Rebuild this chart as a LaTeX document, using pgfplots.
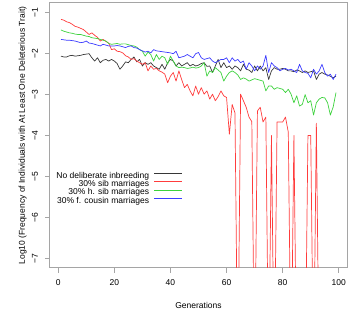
\documentclass[border=0pt]{standalone}
\usepackage{pgfplots}
\usepackage{pgfplotstable}
\pgfplotsset{compat=1.18}
\usepackage{fontspec}
\setmainfont{Liberation Sans}
\definecolor{cblack}{RGB}{55,55,55}
\definecolor{cred}{RGB}{255,60,60}
\definecolor{cgreen}{RGB}{60,210,60}
\definecolor{cblue}{RGB}{60,60,255}
\definecolor{frame}{RGB}{165,165,165}
\pgfplotstableread{
g black red green blue
1 -2.06 -1.16 -1.42 -1.65
2 -2.08 -1.18 -1.45 -1.66
3 -2.08 -1.22 -1.47 -1.67
4 -2.05 -1.24 -1.49 -1.67
5 -2.04 -1.28 -1.50 -1.68
6 -2.06 -1.33 -1.52 -1.69
7 -2.05 -1.35 -1.53 -1.71
8 -2.04 -1.38 -1.53 -1.73
9 -2.02 -1.41 -1.55 -1.72
10 -2.01 -1.47 -1.57 -1.69
11 -2.00 -1.53 -1.58 -1.74
12 -2.10 -1.49 -1.61 -1.75
13 -2.18 -1.55 -1.62 -1.77
14 -2.10 -1.60 -1.63 -1.79
15 -2.22 -1.69 -1.65 -1.81
16 -2.16 -1.65 -1.67 -1.77
17 -2.14 -1.70 -1.69 -1.79
18 -2.18 -1.74 -1.75 -1.81
19 -2.14 -1.90 -1.77 -1.81
20 -2.18 -1.88 -1.76 -1.81
21 -2.24 -1.94 -1.75 -1.80
22 -2.38 -1.95 -1.77 -1.81
23 -2.30 -1.98 -1.76 -1.83
24 -2.20 -2.05 -1.76 -1.85
25 -2.22 -2.08 -1.78 -1.82
26 -2.14 -2.14 -1.80 -1.81
27 -2.08 -2.12 -1.81 -1.85
28 -2.20 -2.18 -1.84 -1.86
29 -2.14 -2.22 -1.90 -1.90
30 -2.30 -2.26 -1.94 -1.93
31 -2.22 -2.22 -2.06 -1.96
32 -2.26 -2.42 -1.96 -1.94
33 -2.22 -2.30 -2.02 -1.98
34 -2.30 -2.38 -2.18 -1.90
35 -2.34 -2.36 -2.02 -1.93
36 -2.38 -2.42 -2.14 -1.94
37 -2.26 -2.45 -2.06 -1.95
38 -2.38 -2.50 -2.10 -1.96
39 -2.22 -2.71 -2.26 -1.97
40 -2.14 -2.55 -2.06 -1.98
41 -2.18 -2.46 -2.18 -2.00
42 -2.30 -2.67 -2.30 -1.94
43 -2.22 -2.42 -2.34 -2.10
44 -2.30 -2.63 -2.33 -2.08
45 -2.26 -2.83 -2.34 -2.06
46 -2.22 -2.75 -2.36 -2.02
47 -2.30 -2.91 -2.35 -2.06
48 -2.26 -3.03 -2.33 -2.10
49 -2.30 -2.79 -2.35 -2.00
50 -2.28 -2.99 -2.34 -1.97
51 -2.24 -2.83 -2.30 -2.10
52 -2.22 -2.99 -2.22 -2.14
53 -2.31 -2.91 -2.55 -2.12
54 -2.30 -3.11 -2.42 -2.10
55 -2.46 -2.99 -2.46 -2.18
56 -2.30 -3.15 -2.34 -2.22
57 -2.14 -3.05 -2.40 -2.18
58 -2.34 -2.91 -2.46 -2.14
59 -2.22 -3.03 -2.67 -2.14
60 -2.34 -3.07 -2.55 -2.10
61 -2.30 -3.97 -2.46 -2.22
62 -2.38 -3.24 -2.42 -2.10
63 -2.30 -3.45 -2.46 -2.18
64 -2.34 -10 -2.52 -2.14
65 -2.42 -2.99 -2.63 -2.22
66 -2.26 -3.15 -2.59 -2.18
67 -2.38 -3.31 -2.62 -2.38
68 -2.40 -3.55 -2.67 -2.22
69 -2.46 -3.66 -2.64 -2.30
70 -2.30 -10 -2.61 -2.42
71 -2.42 -3.40 -2.63 -2.30
72 -2.30 -3.31 -2.65 -2.38
73 -2.42 -3.67 -2.67 -2.30
74 -2.34 -3.55 -2.91 -2.04
75 -2.63 -10 -2.79 -2.46
76 -2.42 -4.00 -2.79 -2.22
77 -2.34 -10 -2.87 -2.30
78 -2.38 -3.67 -2.83 -2.34
79 -2.38 -3.67 -2.85 -2.42
80 -2.36 -3.67 -2.87 -2.38
81 -2.38 -3.55 -2.95 -2.36
82 -2.42 -3.92 -2.87 -2.40
83 -2.42 -10 -2.99 -2.38
84 -2.44 -4.00 -3.20 -2.42
85 -2.40 -10 -3.03 -2.46
86 -2.42 -10 -3.28 -2.26
87 -2.46 -10 -3.24 -2.42
88 -2.42 -10 -3.00 -2.46
89 -2.46 -4.00 -3.20 -2.48
90 -2.44 -4.00 -3.15 -2.59
91 -2.42 -10 -3.50 -2.38
92 -2.63 -3.70 -3.20 -2.50
93 -2.50 -10 -3.11 -2.42
94 -2.46 -10 -3.07 -2.26
95 -2.50 -10 -3.08 -2.46
96 -2.52 -10 -3.20 -2.55
97 -2.55 -10 -3.50 -2.50
98 -2.59 -10 -3.30 -2.63
99 -2.55 -10 -2.95 -2.50
}\datatable
\newcommand{\fs}{\fontsize{8.5bp}{10bp}\selectfont}
\begin{document}
\begin{tikzpicture}
\useasboundingbox (-50bp,-42bp) rectangle (304bp,268bp);
\begin{axis}[
  at={(0,0)}, anchor=south west,
  scale only axis, width=297bp, height=265bp,
  xmin=-2.92, xmax=102.92, ymin=-7.24, ymax=-0.76,
  xtick={0,20,40,60,80,100},
  ytick={-7,-6,-5,-4,-3,-2,-1},
  yticklabels={−7,−6,−5,−4,−3,−2,−1},
  /pgf/number format/assume math mode=true,
  tick align=outside, major tick length=5bp,
  xtick pos=bottom, ytick pos=left,
  tick style={draw=frame, line width=0.8bp},
  axis line style={draw=frame, line width=1bp},
  tick label style={font=\fs, text=black},
  xticklabel style={anchor=base, yshift=-13bp},
  yticklabel style={rotate=90, anchor=base},
  yticklabel shift=7bp,
  xlabel={Generations},
  ylabel={Log10 (Frequency of Individuals with At Least One Deleterious Trait)},
  label style={font=\fs},
  xlabel style={at={(axis description cs:0.5,0)}, anchor=base, yshift=-40bp},
  ylabel style={at={(axis description cs:-0.0842,0.5)}, anchor=base},
  legend cell align=right,
  legend plot pos=right,
  legend style={at={(axis description cs:0.4478,0.3628)}, anchor=north east,
    draw=none, fill=none, inner sep=0pt, font=\fs, row sep=0pt, column sep=5bp,
    nodes={inner sep=0pt, text height=6.2bp, text depth=2.1bp}},
  legend image code/.code={\draw[#1] (0bp,2.8bp) -- (28bp,2.8bp);},
  every axis plot/.append style={line width=0.7bp, line join=round},
]
\addplot[cblack, no marks] table[x=g, y=black] {\datatable};
\addlegendentry{No deliberate inbreeding}
\addplot[cred, no marks] table[x=g, y=red] {\datatable};
\addlegendentry{30\% sib marriages}
\addplot[cgreen, no marks] table[x=g, y=green] {\datatable};
\addlegendentry{30\% h. sib marriages}
\addplot[cblue, no marks] table[x=g, y=blue] {\datatable};
\addlegendentry{30\% f. cousin marriages}
\end{axis}
\end{tikzpicture}
\end{document}
